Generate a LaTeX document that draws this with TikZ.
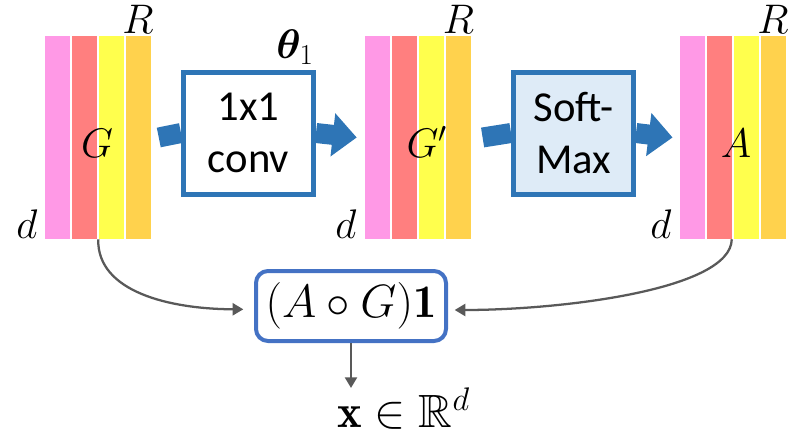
\documentclass[tikz,border=0pt]{standalone}
\usepackage{fix-cm}
\usepackage{amsmath,amssymb}
\usepackage{bm}
\usepackage{fontspec}
\newfontfamily\calib{Carlito}
\usetikzlibrary{arrows.meta}
\definecolor{cpink}{HTML}{FF99E6}
\definecolor{cred}{HTML}{FF7F7F}
\definecolor{cyel}{HTML}{FFFF4D}
\definecolor{cora}{HTML}{FFD24D}
\definecolor{cblue}{HTML}{2E75B6}
\definecolor{clight}{HTML}{DEEBF7}
\definecolor{cbord}{HTML}{4472C4}
\definecolor{cgray}{HTML}{595959}
\newcommand\mystack[2]{%
  \node[strip,fill=cpink] (#1p) at (#2,137.5) {};
  \node[strip,fill=cred] (#1r) at ({#2+27},137.5) {};
  \node[strip,fill=cyel] (#1y) at ({#2+54},137.5) {};
  \node[strip,fill=cora] (#1o) at ({#2+81},137.5) {};
}
\begin{document}
\begin{tikzpicture}[x=0.75pt,y=-0.75pt,
  strip/.style={draw=none,minimum width=18.75pt,minimum height=152.25pt,inner sep=0pt},
  lab/.style={font=\fontsize{31}{36}\selectfont,inner sep=0pt},
  opbox/.style={draw=cblue,line width=3.75pt,minimum width=97.5pt,minimum height=91.5pt,
    align=center,inner sep=0pt,font=\fontsize{32}{39}\selectfont\calib},
  barrow/.style={draw=cblue,line width=15pt},
  btip/.style={-{Triangle[length=18pt,width=31.5pt]}},
  garrow/.style={draw=cgray,line width=1.7pt,-{Triangle[length=8pt,width=9pt]}},
  aggbox/.style={draw=cbord,line width=3pt,rounded corners=9pt,minimum width=142.5pt,
    minimum height=52.5pt,inner sep=0pt,font=\fontsize{35}{40}\selectfont}
]
\useasboundingbox (0,0) rectangle (790,439);
\mystack{s1}{57}
\mystack{s2}{377.5}
\mystack{s3}{692}
% labels
\node[lab,anchor=base] (r1) at (138,33) {$R$};
\node[lab,anchor=base] (r2) at (458.5,33) {$R$};
\node[lab,anchor=base] (r3) at (773,33) {$R$};
\node[lab,anchor=base] (d1) at (27,238) {$d$};
\node[lab,anchor=base] (d2) at (346,238) {$d$};
\node[lab,anchor=base] (d3) at (661,238) {$d$};
\node[lab,anchor=base] (g1) at (97,157) {$G$};
\node[lab,anchor=base] (g2) at (427,157) {$G'$};
\node[lab,anchor=base] (g3) at (736,157) {$A$};
\node[lab,anchor=base] (th) at (295,58) {$\bm{\theta}_1$};
% boxes
\node[opbox,fill=white] (conv) at (248.5,133) {1x1\\conv};
\node[opbox,fill=clight,minimum width=90pt] (sm) at (573.5,133) {Soft-\\Max};
\node[aggbox] (agg) at (351,306) {$(A\circ G)\mathbf{1}$};
\node[anchor=base west,inner sep=0pt,font=\fontsize{35}{40}\selectfont] (out) at (337,427) {$\mathbf{x}\in\mathbb{R}^d$};
% blue arrows
\draw[barrow] ([xshift=6pt]s1o.east) -- (conv.west);
\draw[barrow,btip] (conv.east) -- ([xshift=-6pt]s2p.west);
\draw[barrow] ([xshift=8.5pt]s2o.east) -- (sm.west);
\draw[barrow,btip] (sm.east) -- ([xshift=-5pt]s3p.west);
% gray arrows
\draw[garrow] (s1y.south west) .. controls (97,292) and (170,309) .. ([xshift=-8pt,yshift=-2.5pt]agg.west);
\draw[garrow] (s3r.south east) .. controls (731,290) and (560,310) .. ([xshift=5pt,yshift=-3pt]agg.east);
\draw[garrow] (agg.south) -- ++(0,45);
\end{tikzpicture}
\end{document}
